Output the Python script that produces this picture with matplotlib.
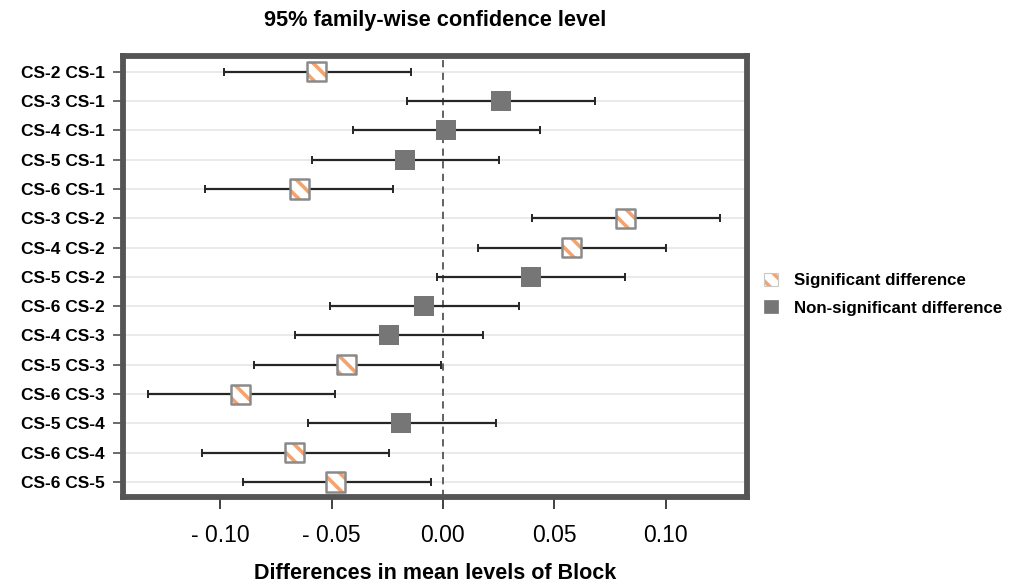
import matplotlib
matplotlib.use('Agg')
import matplotlib.pyplot as plt
from matplotlib.patches import Patch
import numpy as np

plt.rcParams['font.family'] = ['Liberation Sans', 'DejaVu Sans']
plt.rcParams['hatch.linewidth'] = 2.6

pairs = ['CS-2 CS-1', 'CS-3 CS-1', 'CS-4 CS-1', 'CS-5 CS-1', 'CS-6 CS-1',
         'CS-3 CS-2', 'CS-4 CS-2', 'CS-5 CS-2', 'CS-6 CS-2', 'CS-4 CS-3',
         'CS-5 CS-3', 'CS-6 CS-3', 'CS-5 CS-4', 'CS-6 CS-4', 'CS-6 CS-5']
diff = [-0.0567, 0.0260, 0.0016, -0.0168, -0.0644,
        0.0819, 0.0578, 0.0395, -0.0084, -0.0243,
        -0.0433, -0.0909, -0.0190, -0.0667, -0.0481]
lwr = [-0.0984, -0.0159, -0.0404, -0.0589, -0.1066,
       0.0402, 0.0159, -0.0026, -0.0505, -0.0665,
       -0.0850, -0.1325, -0.0607, -0.1082, -0.0898]
upr = [-0.0141, 0.0682, 0.0437, 0.0252, -0.0223,
       0.1245, 0.1002, 0.0817, 0.0340, 0.0179,
       -0.0007, -0.0483, 0.0236, -0.0241, -0.0055]
signif = [True, False, False, False, True,
          True, True, False, False, False,
          True, True, False, True, True]

xticks = [-0.10, -0.05, 0.00, 0.05, 0.10]
xticklabels = ['- 0.10', '- 0.05', '0.00', '0.05', '0.10']

orange = '#f5a36e'
edge_gray = '#8a8a8a'
fill_gray = '#767676'

diff = np.array(diff)
lwr = np.array(lwr)
upr = np.array(upr)
signif = np.array(signif)
y = np.arange(len(pairs))

fig = plt.figure(figsize=(10.2, 5.85), dpi=100)
ax = fig.add_axes([0.1203, 0.151, 0.6117, 0.754])

for yy in y:
    ax.axhline(yy, color='#e8e8e8', lw=1.3, zorder=0)
ax.axvline(0, color='#555555', lw=1.3, ls=(0, (4, 3)), zorder=1)

ax.errorbar(diff, y, xerr=[diff - lwr, upr - diff], fmt='none',
            ecolor='#262626', elinewidth=1.6, capsize=3.2, capthick=1.4, zorder=2)

ms = 190
ax.scatter(diff[~signif], y[~signif], marker='s', s=ms, color=fill_gray,
           linewidths=0, zorder=3)
ax.scatter(diff[signif], y[signif], marker='s', s=ms, facecolor='white',
           edgecolor=orange, linewidths=0, hatch='\\\\', zorder=3)
ax.scatter(diff[signif], y[signif], marker='s', s=ms, facecolor='none',
           edgecolor=edge_gray, linewidths=1.8, zorder=4)

ax.set_ylim(len(pairs) - 0.5, -0.55)
ax.set_xlim(-0.1437, 0.1363)
ax.set_yticks(y)
ax.set_yticklabels(pairs, fontsize=12.5, fontweight='bold')
ax.set_xticks(xticks)
ax.set_xticklabels(xticklabels, fontsize=16.5)
ax.tick_params(axis='x', length=8.5, width=1.3, color='#333333', pad=11)
ax.tick_params(axis='y', length=7, width=1.1, color='#444444', pad=6)

for s in ax.spines.values():
    s.set_linewidth(4.2)
    s.set_color('#555555')

ax.set_title('95% family-wise confidence level', fontsize=15.7,
             fontweight='bold', pad=21)
ax.set_xlabel('Differences in mean levels of Block', fontsize=15.5,
              fontweight='bold', labelpad=11.5)

h_sig = (Patch(facecolor='white', edgecolor=orange, linewidth=0, hatch='\\\\'),
         Patch(facecolor='none', edgecolor='#c8c8c8', linewidth=0.8))
h_non = Patch(facecolor=fill_gray, edgecolor=fill_gray, linewidth=0.5)
fig.legend([h_sig, h_non], ['Significant difference', 'Non-significant difference'],
           loc='center left', bbox_to_anchor=(0.749, 0.497), frameon=False,
           prop={'weight': 'bold', 'size': 12.2},
           handlelength=0.8, handleheight=0.8, handletextpad=1.0,
           labelspacing=0.7, borderpad=0, borderaxespad=0)

fig.savefig('out.png', dpi=100)
